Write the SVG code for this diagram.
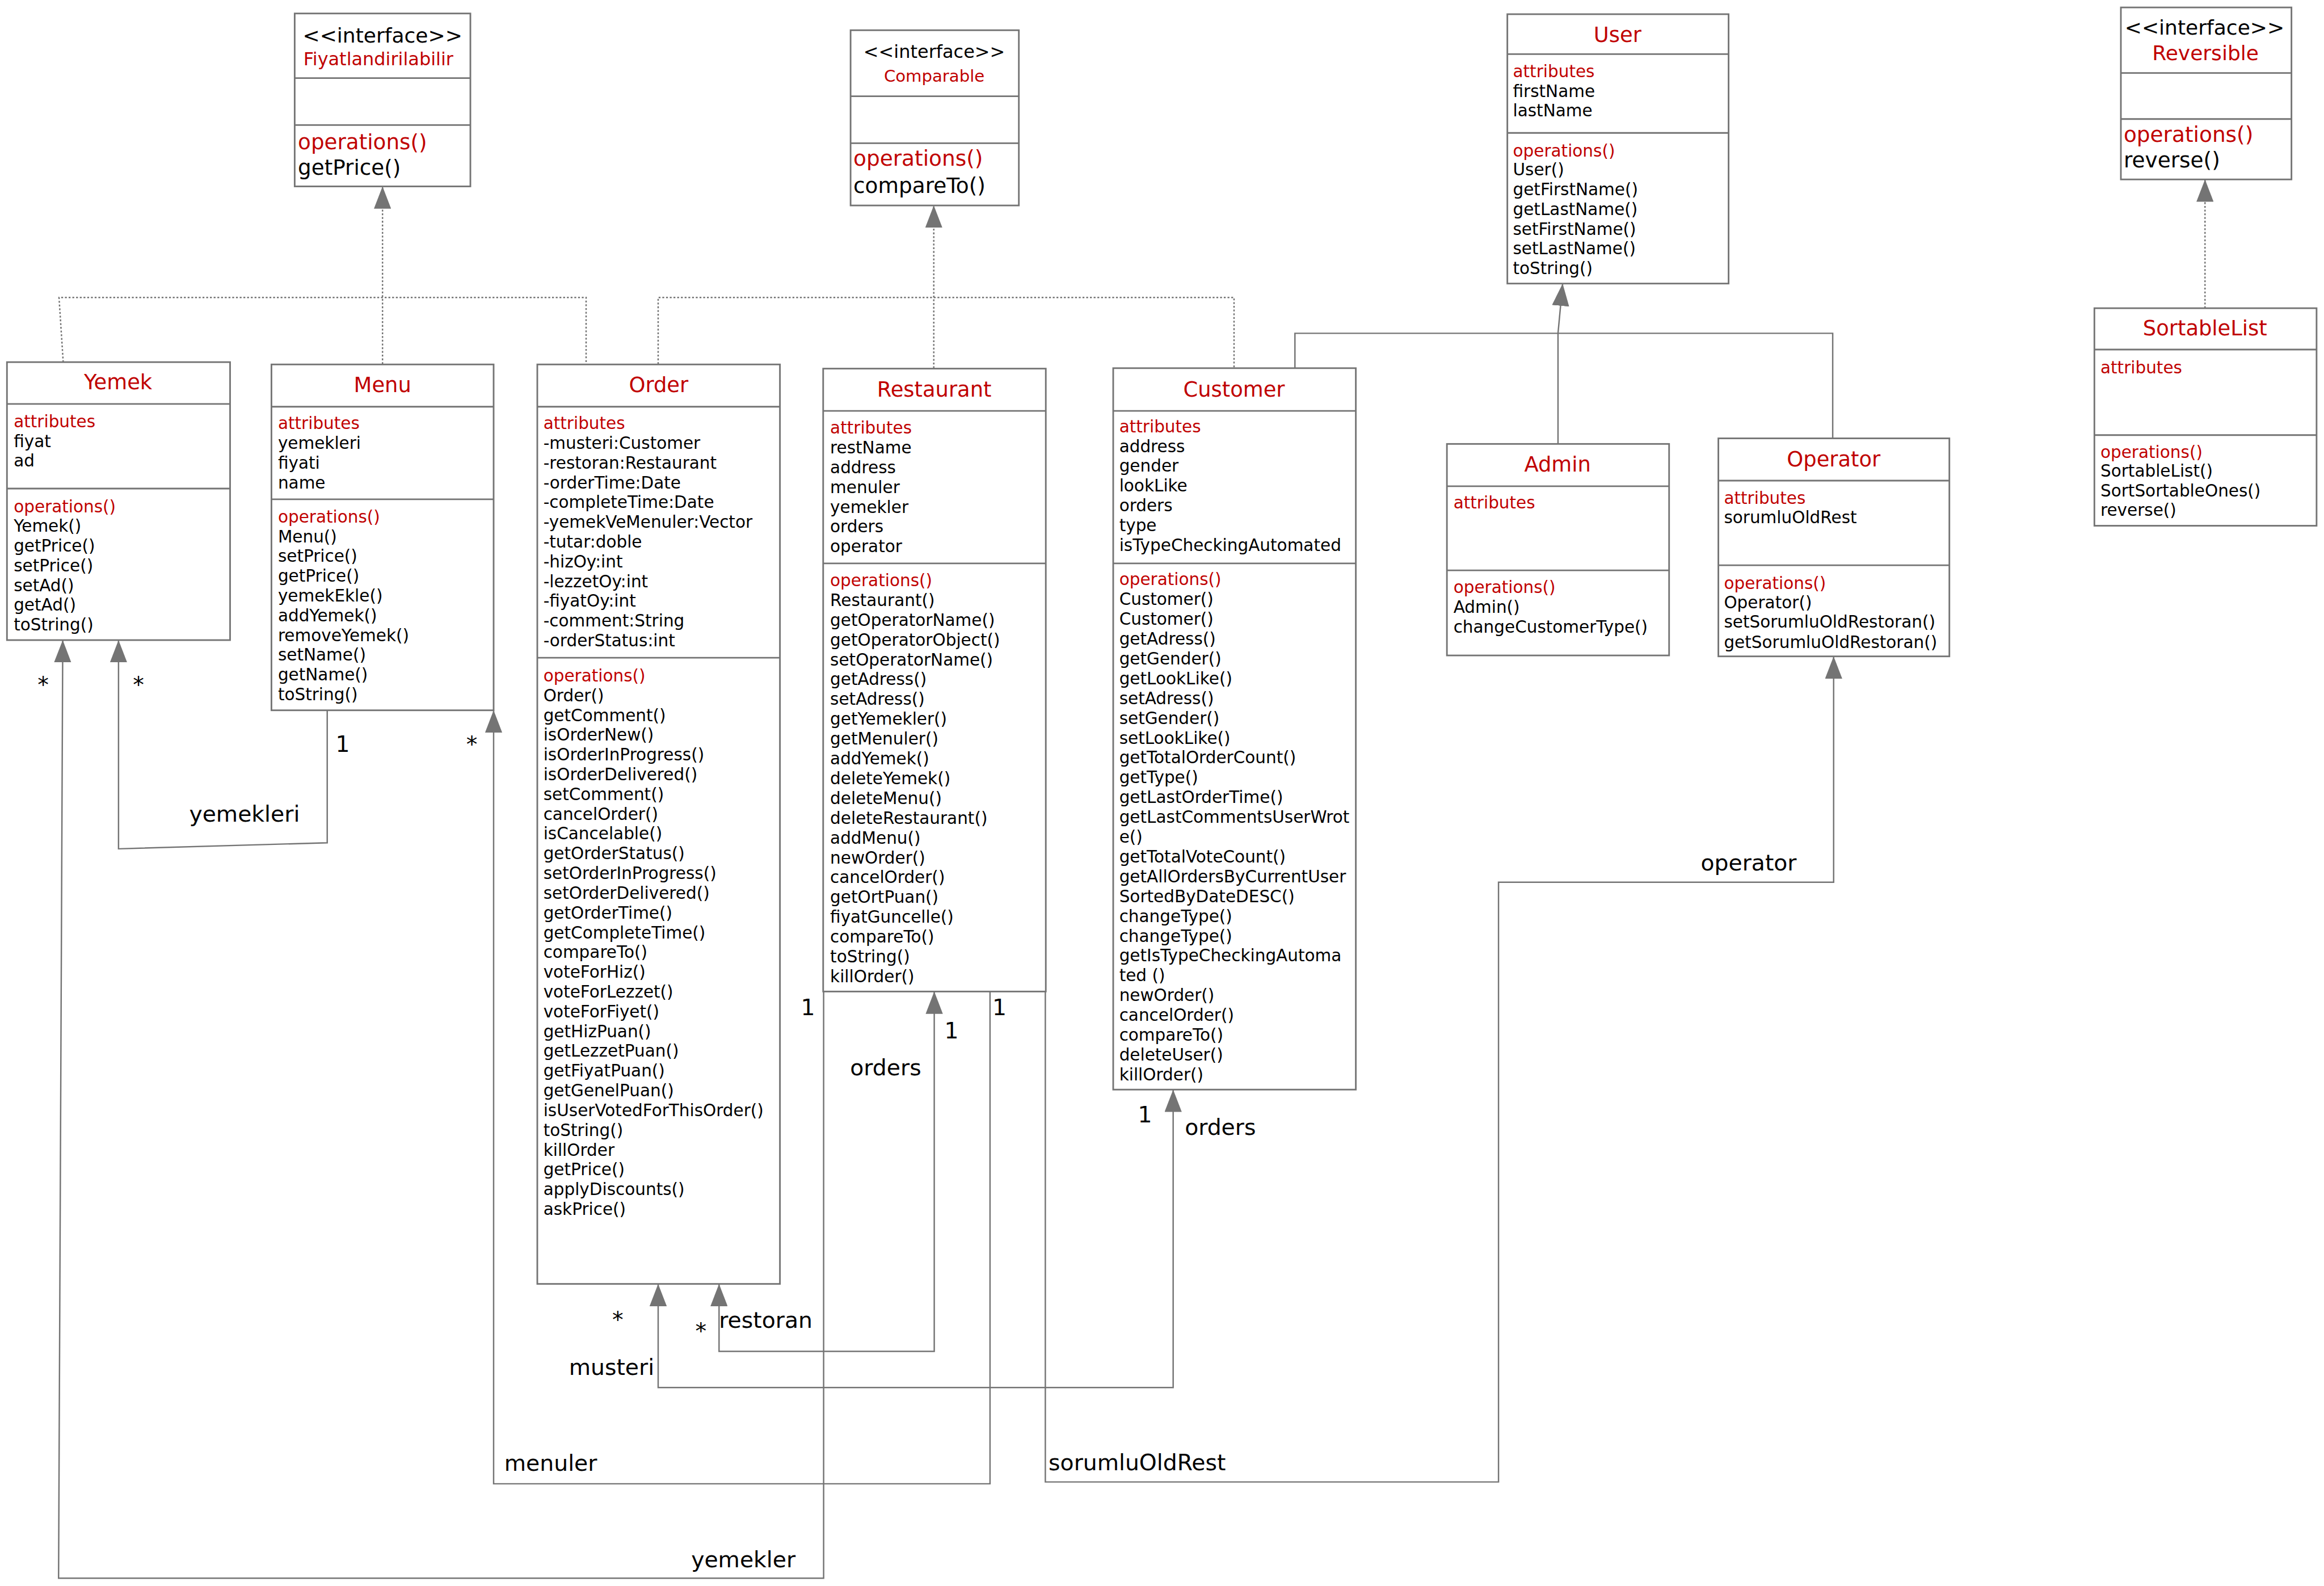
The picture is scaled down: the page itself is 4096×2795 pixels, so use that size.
<svg xmlns="http://www.w3.org/2000/svg" width="4096" height="2795" viewBox="0 0 4096 2795">
<style>
.box{fill:#fff;stroke:#747474;stroke-width:3.5}
.dv{stroke:#747474;stroke-width:3.5}
.t{font-family:"DejaVu Sans",Verdana,sans-serif;font-size:36px;fill:#000}
.r{fill:#c00000}
.ti{font-family:"DejaVu Sans",Verdana,sans-serif;font-size:45px;text-anchor:middle;fill:#c00000}
.c{fill:none;stroke:#747474;stroke-width:3}
.d{stroke-dasharray:4 4}
.a{marker-end:url(#tri)}
.l{font-family:"DejaVu Sans",Verdana,sans-serif;font-size:48px;fill:#000}
</style>
<defs>
<marker id="tri" viewBox="0 0 48 37" refX="48" refY="18.5" markerWidth="48" markerHeight="37" markerUnits="userSpaceOnUse" orient="auto-start-reverse"><path d="M0,0L48,18.5L0,37Z" fill="#747474"/></marker>
</defs>
<rect width="4096" height="2795" fill="#fff"/>
<g transform="scale(0.8192)">
<g id="connectors">
<path class="c d" d="M136,779L127,640H1261V783"/>
<path class="c d a" d="M823,783V401"/>
<path class="c d" d="M1416,783V640H2655V791"/>
<path class="c d a" d="M2009,792V442"/>
<path class="c d a" d="M4744,663V386"/>
<path class="c" d="M2786,792V717H3943V943"/>
<path class="c a" d="M3352,955V717L3362,610"/>
<path class="c a" d="M704,1528V1813L255,1826V1377"/>
<path class="c a" d="M1772,2133V3395H126L135,1377"/>
<path class="c a" d="M2130,2133V3192H1062V1528"/>
<path class="c a" style="marker-start:url(#tri)" d="M1547,2762V2907H2010V2133"/>
<path class="c a" style="marker-start:url(#tri)" d="M1416,2762V2985H2524V2344"/>
<path class="c a" d="M2249,2133V3188H3224V1898H3945V1412"/>
<text class="l" x="81" y="1489">*</text>
<text class="l" x="286" y="1489">*</text>
<text class="l" x="722" y="1617">1</text>
<text class="l" x="407" y="1767">yemekleri</text>
<text class="l" x="1003" y="1617">*</text>
<text class="l" x="1085" y="3164">menuler</text>
<text class="l" x="1487" y="3372">yemekler</text>
<text class="l" x="1723" y="2184">1</text>
<text class="l" x="2032" y="2234">1</text>
<text class="l" x="2135" y="2184">1</text>
<text class="l" x="1829" y="2313">orders</text>
<text class="l" x="1317" y="2855">*</text>
<text class="l" x="1496" y="2880">*</text>
<text class="l" x="1547" y="2857">restoran</text>
<text class="l" x="1224" y="2958">musteri</text>
<text class="l" x="2448" y="2415">1</text>
<text class="l" x="2549" y="2442">orders</text>
<text class="l" x="3659" y="1873">operator</text>
<text class="l" x="2256" y="3163">sorumluOldRest</text>
</g>

<g id="fiyatlandirilabilir">
<rect class="box" x="634" y="29" width="378" height="372"/>
<path class="dv" d="M634,168H1012M634,269H1012"/>
<text class="t" x="823" y="91" text-anchor="middle" style="font-size:44px">&lt;&lt;interface&gt;&gt;</text>
<text class="t r" x="814" y="140" text-anchor="middle" style="font-size:39px">Fiyatlandirilabilir</text>
<text class="t r" x="641" y="321" style="font-size:45.5px">operations()</text>
<text class="t" x="641" y="376" style="font-size:45.5px">getPrice()</text>
</g>

<g id="comparable">
<rect class="box" x="1830" y="65" width="362" height="377"/>
<path class="dv" d="M1830,207H2192M1830,308H2192"/>
<text class="t" x="2010" y="125" text-anchor="middle" style="font-size:39px">&lt;&lt;interface&gt;&gt;</text>
<text class="t r" x="2010" y="176" text-anchor="middle" style="font-size:35.6px">Comparable</text>
<text class="t r" x="1836" y="357" style="font-size:45.7px">operations()</text>
<text class="t" x="1836" y="415" style="font-size:45.7px">compareTo()</text>
</g>

<g id="reversible">
<rect class="box" x="4563" y="16" width="367" height="370"/>
<path class="dv" d="M4563,157H4930M4563,256H4930"/>
<text class="t" x="4743" y="74" text-anchor="middle" style="font-size:44px">&lt;&lt;interface&gt;&gt;</text>
<text class="t r" x="4745" y="129.5" text-anchor="middle" style="font-size:44px">Reversible</text>
<text class="t r" x="4569" y="305" style="font-size:45.7px">operations()</text>
<text class="t" x="4569" y="360.6" style="font-size:45.7px">reverse()</text>
</g>

<g id="user">
<rect class="box" x="3243" y="30.5" width="476" height="579.5"/>
<path class="dv" d="M3243,116.5H3719M3243,286H3719"/>
<text class="ti" x="3480" y="90">User</text>
<text class="t r" x="3255" y="166">attributes</text>
<text class="t" x="3255" y="209">firstName<tspan x="3255" dy="41.5">lastName</tspan></text>
<text class="t r" x="3255" y="337.5">operations()</text>
<text class="t" x="3255" y="377">User()<tspan x="3255" dy="42.6">getFirstName()</tspan><tspan x="3255" dy="42.6">getLastName()</tspan><tspan x="3255" dy="42.6">setFirstName()</tspan><tspan x="3255" dy="42.6">setLastName()</tspan><tspan x="3255" dy="42.6">toString()</tspan></text>
</g>

<g id="sortablelist">
<rect class="box" x="4506" y="663" width="478" height="468"/>
<path class="dv" d="M4506,752H4984M4506,936H4984"/>
<text class="ti" x="4744" y="721">SortableList</text>
<text class="t r" x="4519" y="803">attributes</text>
<text class="t r" x="4519" y="985">operations()</text>
<text class="t" x="4519" y="1026">SortableList()<tspan x="4519" dy="42">SortSortableOnes()</tspan><tspan x="4519" dy="42">reverse()</tspan></text>
</g>

<g id="admin">
<rect class="box" x="3113" y="955" width="478" height="455"/>
<path class="dv" d="M3113,1046H3591M3113,1227H3591"/>
<text class="ti" x="3351" y="1015">Admin</text>
<text class="t r" x="3127" y="1094">attributes</text>
<text class="t r" x="3127" y="1276">operations()</text>
<text class="t" x="3127" y="1318">Admin()<tspan x="3127" dy="43">changeCustomerType()</tspan></text>
</g>

<g id="operator">
<rect class="box" x="3697" y="943" width="497" height="469"/>
<path class="dv" d="M3697,1034H4194M3697,1216H4194"/>
<text class="ti" x="3945" y="1003">Operator</text>
<text class="t r" x="3709" y="1084">attributes</text>
<text class="t" x="3709" y="1126">sorumluOldRest</text>
<text class="t r" x="3709" y="1267">operations()</text>
<text class="t" x="3709" y="1308">Operator()<tspan x="3709" dy="42.5">setSorumluOldRestoran()</tspan><tspan x="3709" dy="43.5">getSorumluOldRestoran()</tspan></text>
</g>

<g id="yemek">
<rect class="box" x="15" y="779" width="480" height="598"/>
<path class="dv" d="M15,869H495M15,1051H495"/>
<text class="ti" x="254" y="838">Yemek</text>
<text class="t r" x="29.5" y="919">attributes</text>
<text class="t" x="29.5" y="962">fiyat<tspan x="29.5" dy="41.5">ad</tspan></text>
<text class="t r" x="29.5" y="1102">operations()</text>
<text class="t" x="29.5" y="1144">Yemek()<tspan x="29.5" dy="42.5">getPrice()</tspan><tspan x="29.5" dy="42.5">setPrice()</tspan><tspan x="29.5" dy="42.5">setAd()</tspan><tspan x="29.5" dy="42.5">getAd()</tspan><tspan x="29.5" dy="42.5">toString()</tspan></text>
</g>

<g id="menu">
<rect class="box" x="584" y="784" width="478" height="744"/>
<path class="dv" d="M584,875H1062M584,1074H1062"/>
<text class="ti" x="823" y="843">Menu</text>
<text class="t r" x="598" y="923">attributes</text>
<text class="t" x="598" y="965.5">yemekleri<tspan x="598" dy="42.5">fiyati</tspan><tspan x="598" dy="42.5">name</tspan></text>
<text class="t r" x="598" y="1124">operations()</text>
<text class="t" x="598" y="1166.5">Menu()<tspan x="598" dy="42.5">setPrice()</tspan><tspan x="598" dy="42.5">getPrice()</tspan><tspan x="598" dy="42.5">yemekEkle()</tspan><tspan x="598" dy="42.5">addYemek()</tspan><tspan x="598" dy="42.5">removeYemek()</tspan><tspan x="598" dy="42.5">setName()</tspan><tspan x="598" dy="42.5">getName()</tspan><tspan x="598" dy="42.5">toString()</tspan></text>
</g>

<g id="order">
<rect class="box" x="1156" y="784" width="522" height="1978"/>
<path class="dv" d="M1156,875H1678M1156,1415H1678"/>
<text class="ti" x="1417" y="843">Order</text>
<text class="t r" x="1169" y="923">attributes</text>
<text class="t" x="1169" y="965.5">-musteri:Customer<tspan x="1169" dy="42.5">-restoran:Restaurant</tspan><tspan x="1169" dy="42.5">-orderTime:Date</tspan><tspan x="1169" dy="42.5">-completeTime:Date</tspan><tspan x="1169" dy="42.5">-yemekVeMenuler:Vector</tspan><tspan x="1169" dy="42.5">-tutar:doble</tspan><tspan x="1169" dy="42.5">-hizOy:int</tspan><tspan x="1169" dy="42.5">-lezzetOy:int</tspan><tspan x="1169" dy="42.5">-fiyatOy:int</tspan><tspan x="1169" dy="42.5">-comment:String</tspan><tspan x="1169" dy="42.5">-orderStatus:int</tspan></text>
<text class="t r" x="1169" y="1466">operations()</text>
<text class="t" x="1169" y="1508.5">Order()<tspan x="1169" dy="42.5">getComment()</tspan><tspan x="1169" dy="42.5">isOrderNew()</tspan><tspan x="1169" dy="42.5">isOrderInProgress()</tspan><tspan x="1169" dy="42.5">isOrderDelivered()</tspan><tspan x="1169" dy="42.5">setComment()</tspan><tspan x="1169" dy="42.5">cancelOrder()</tspan><tspan x="1169" dy="42.5">isCancelable()</tspan><tspan x="1169" dy="42.5">getOrderStatus()</tspan><tspan x="1169" dy="42.5">setOrderInProgress()</tspan><tspan x="1169" dy="42.5">setOrderDelivered()</tspan><tspan x="1169" dy="42.5">getOrderTime()</tspan><tspan x="1169" dy="42.5">getCompleteTime()</tspan><tspan x="1169" dy="42.5">compareTo()</tspan><tspan x="1169" dy="42.5">voteForHiz()</tspan><tspan x="1169" dy="42.5">voteForLezzet()</tspan><tspan x="1169" dy="42.5">voteForFiyet()</tspan><tspan x="1169" dy="42.5">getHizPuan()</tspan><tspan x="1169" dy="42.5">getLezzetPuan()</tspan><tspan x="1169" dy="42.5">getFiyatPuan()</tspan><tspan x="1169" dy="42.5">getGenelPuan()</tspan><tspan x="1169" dy="42.5">isUserVotedForThisOrder()</tspan><tspan x="1169" dy="42.5">toString()</tspan><tspan x="1169" dy="42.5">killOrder</tspan><tspan x="1169" dy="42.5">getPrice()</tspan><tspan x="1169" dy="42.5">applyDiscounts()</tspan><tspan x="1169" dy="42.5">askPrice()</tspan></text>
</g>

<g id="restaurant">
<rect class="box" x="1771" y="793" width="479" height="1340"/>
<path class="dv" d="M1771,884H2250M1771,1212H2250"/>
<text class="ti" x="2010" y="853">Restaurant</text>
<text class="t r" x="1786" y="933">attributes</text>
<text class="t" x="1786" y="975.5">restName<tspan x="1786" dy="42.5">address</tspan><tspan x="1786" dy="42.5">menuler</tspan><tspan x="1786" dy="42.5">yemekler</tspan><tspan x="1786" dy="42.5">orders</tspan><tspan x="1786" dy="42.5">operator</tspan></text>
<text class="t r" x="1786" y="1261">operations()</text>
<text class="t" x="1786" y="1303.5">Restaurant()<tspan x="1786" dy="42.6">getOperatorName()</tspan><tspan x="1786" dy="42.6">getOperatorObject()</tspan><tspan x="1786" dy="42.6">setOperatorName()</tspan><tspan x="1786" dy="42.6">getAdress()</tspan><tspan x="1786" dy="42.6">setAdress()</tspan><tspan x="1786" dy="42.6">getYemekler()</tspan><tspan x="1786" dy="42.6">getMenuler()</tspan><tspan x="1786" dy="42.6">addYemek()</tspan><tspan x="1786" dy="42.6">deleteYemek()</tspan><tspan x="1786" dy="42.6">deleteMenu()</tspan><tspan x="1786" dy="42.6">deleteRestaurant()</tspan><tspan x="1786" dy="42.6">addMenu()</tspan><tspan x="1786" dy="42.6">newOrder()</tspan><tspan x="1786" dy="42.6">cancelOrder()</tspan><tspan x="1786" dy="42.6">getOrtPuan()</tspan><tspan x="1786" dy="42.6">fiyatGuncelle()</tspan><tspan x="1786" dy="42.6">compareTo()</tspan><tspan x="1786" dy="42.6">toString()</tspan><tspan x="1786" dy="42.6">killOrder()</tspan></text>
</g>

<g id="customer">
<rect class="box" x="2395" y="792" width="522" height="1552"/>
<path class="dv" d="M2395,884H2917M2395,1212H2917"/>
<text class="ti" x="2655" y="853">Customer</text>
<text class="t r" x="2408" y="930">attributes</text>
<text class="t" x="2408" y="972.5">address<tspan x="2408" dy="42.5">gender</tspan><tspan x="2408" dy="42.5">lookLike</tspan><tspan x="2408" dy="42.5">orders</tspan><tspan x="2408" dy="42.5">type</tspan><tspan x="2408" dy="42.5">isTypeCheckingAutomated</tspan></text>
<text class="t r" x="2408" y="1259">operations()</text>
<text class="t" x="2408" y="1301.6">Customer()<tspan x="2408" dy="42.6">Customer()</tspan><tspan x="2408" dy="42.6">getAdress()</tspan><tspan x="2408" dy="42.6">getGender()</tspan><tspan x="2408" dy="42.6">getLookLike()</tspan><tspan x="2408" dy="42.6">setAdress()</tspan><tspan x="2408" dy="42.6">setGender()</tspan><tspan x="2408" dy="42.6">setLookLike()</tspan><tspan x="2408" dy="42.6">getTotalOrderCount()</tspan><tspan x="2408" dy="42.6">getType()</tspan><tspan x="2408" dy="42.6">getLastOrderTime()</tspan><tspan x="2408" dy="42.6">getLastCommentsUserWrot</tspan><tspan x="2408" dy="42.6">e()</tspan><tspan x="2408" dy="42.6">getTotalVoteCount()</tspan><tspan x="2408" dy="42.6">getAllOrdersByCurrentUser</tspan><tspan x="2408" dy="42.6">SortedByDateDESC()</tspan><tspan x="2408" dy="42.6">changeType()</tspan><tspan x="2408" dy="42.6">changeType()</tspan><tspan x="2408" dy="42.6">getIsTypeCheckingAutoma</tspan><tspan x="2408" dy="42.6">ted ()</tspan><tspan x="2408" dy="42.6">newOrder()</tspan><tspan x="2408" dy="42.6">cancelOrder()</tspan><tspan x="2408" dy="42.6">compareTo()</tspan><tspan x="2408" dy="42.6">deleteUser()</tspan><tspan x="2408" dy="42.6">killOrder()</tspan></text>
</g>
</g>
</svg>
